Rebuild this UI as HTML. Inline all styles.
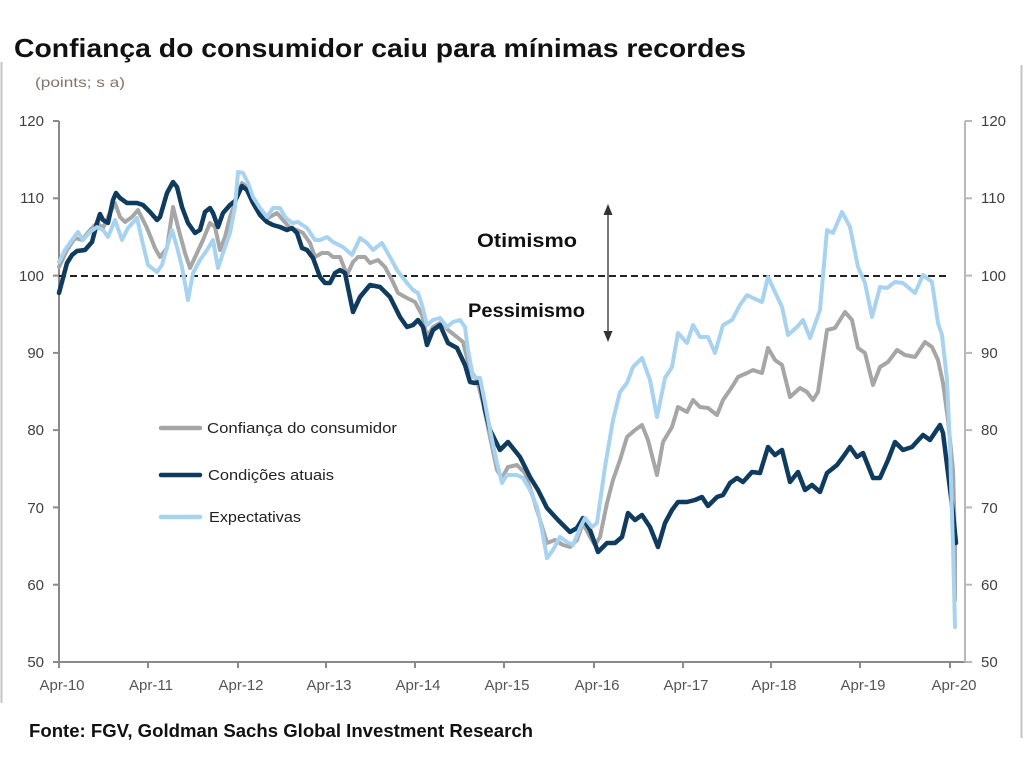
<!DOCTYPE html>
<html><head><meta charset="utf-8"><style>
html,body{margin:0;padding:0;background:#fff;}
svg{display:block;}
text{font-family:"Liberation Sans",Arial,sans-serif;}
</style></head><body>
<svg width="1024" height="768" viewBox="0 0 1024 768" xmlns="http://www.w3.org/2000/svg">
<rect width="1024" height="768" fill="#fff"/>
<!-- frame lines -->
<line x1="1.5" y1="62" x2="1.5" y2="703" stroke="#c4c4c4" stroke-width="2"/>
<line x1="1021.5" y1="65" x2="1021.5" y2="738" stroke="#c4c4c4" stroke-width="2"/>

<!-- title -->
<text x="14" y="57" font-size="26" font-weight="bold" fill="#111" textLength="732" lengthAdjust="spacingAndGlyphs">Confiança do consumidor caiu para mínimas recordes</text>
<text x="35" y="87" font-size="14" fill="#85746a" textLength="90" lengthAdjust="spacingAndGlyphs">(points; s a)</text>

<!-- axes -->
<g stroke="#8a8a8a" stroke-width="2" fill="none">
<line x1="59" y1="121" x2="59" y2="663"/>
<line x1="58" y1="662" x2="966" y2="662"/>
<line x1="53" y1="121" x2="59" y2="121"/>
<line x1="53" y1="198.3" x2="59" y2="198.3"/>
<line x1="53" y1="275.6" x2="59" y2="275.6"/>
<line x1="53" y1="352.9" x2="59" y2="352.9"/>
<line x1="53" y1="430.1" x2="59" y2="430.1"/>
<line x1="53" y1="507.4" x2="59" y2="507.4"/>
<line x1="53" y1="584.7" x2="59" y2="584.7"/>
<line x1="53" y1="662" x2="59" y2="662"/>
<line x1="59" y1="662" x2="59" y2="668"/>
<line x1="148" y1="662" x2="148" y2="668"/>
<line x1="238" y1="662" x2="238" y2="668"/>
<line x1="326" y1="662" x2="326" y2="668"/>
<line x1="415" y1="662" x2="415" y2="668"/>
<line x1="504" y1="662" x2="504" y2="668"/>
<line x1="594" y1="662" x2="594" y2="668"/>
<line x1="683" y1="662" x2="683" y2="668"/>
<line x1="771" y1="662" x2="771" y2="668"/>
<line x1="860" y1="662" x2="860" y2="668"/>
<line x1="950" y1="662" x2="950" y2="668"/>
</g>
<g stroke="#b8b8b8" stroke-width="2" fill="none">
<line x1="965" y1="121" x2="965" y2="662"/>
<line x1="965" y1="121" x2="972" y2="121"/>
<line x1="965" y1="198.3" x2="972" y2="198.3"/>
<line x1="965" y1="275.6" x2="972" y2="275.6"/>
<line x1="965" y1="352.9" x2="972" y2="352.9"/>
<line x1="965" y1="430.1" x2="972" y2="430.1"/>
<line x1="965" y1="507.4" x2="972" y2="507.4"/>
<line x1="965" y1="584.7" x2="972" y2="584.7"/>
<line x1="965" y1="662" x2="972" y2="662"/>
</g>

<!-- y labels left -->
<g font-size="15" fill="#404040" text-anchor="end">
<text x="44" y="126">120</text>
<text x="44" y="203">110</text>
<text x="44" y="281">100</text>
<text x="44" y="358">90</text>
<text x="44" y="435">80</text>
<text x="44" y="513">70</text>
<text x="44" y="590">60</text>
<text x="44" y="667">50</text>
</g>
<!-- y labels right -->
<g font-size="15" fill="#404040">
<text x="981" y="126">120</text>
<text x="981" y="203">110</text>
<text x="981" y="281">100</text>
<text x="981" y="358">90</text>
<text x="981" y="435">80</text>
<text x="981" y="513">70</text>
<text x="981" y="590">60</text>
<text x="981" y="667">50</text>
</g>
<!-- x labels -->
<g font-size="15" fill="#555" text-anchor="middle">
<text x="62" y="690">Apr-10</text>
<text x="151" y="690">Apr-11</text>
<text x="241" y="690">Apr-12</text>
<text x="329" y="690">Apr-13</text>
<text x="418" y="690">Apr-14</text>
<text x="507" y="690">Apr-15</text>
<text x="597" y="690">Apr-16</text>
<text x="686" y="690">Apr-17</text>
<text x="774" y="690">Apr-18</text>
<text x="863" y="690">Apr-19</text>
<text x="954" y="690">Apr-20</text>
</g>

<!-- dashed 100 line -->
<line x1="59" y1="276" x2="950" y2="276" stroke="#222" stroke-width="2" stroke-dasharray="7,4"/>

<!-- series -->
<g fill="none" stroke-width="4" stroke-linejoin="round" stroke-linecap="round">
<polyline stroke="#a6a6a6" points="59,267 67,250 75,238 82,240 90,230 97,223 103,228 110,213 115,203 120,217 125,222 132,217 138,210 147,228 155,248 160,257 167,248 173,207 178,227 185,253 190,268 197,253 203,240 210,223 215,227 220,250 225,237 230,217 237,197 242,183 248,188 255,203 262,213 268,218 277,213 283,220 290,228 297,230 303,233 310,243 315,257 322,253 328,253 333,257 340,257 347,275 353,262 358,257 365,257 370,263 378,260 385,267 392,280 398,293 407,298 415,302 422,315 427,337 433,327 442,322 448,330 457,337 463,342 470,370 477,380 483,403 490,437 497,470 502,478 508,467 517,465 525,473 533,497 540,520 547,543 555,540 563,545 570,547 577,540 583,523 590,537 595,545 600,537 607,503 613,480 620,460 627,437 635,430 642,425 648,440 657,475 663,442 672,427 678,407 687,412 693,400 700,407 708,408 717,415 723,400 732,387 738,377 747,373 753,370 762,373 768,348 775,360 782,365 790,397 800,388 807,392 813,400 818,392 827,330 835,328 845,312 852,320 858,348 865,353 873,385 880,367 888,362 897,350 905,355 915,357 925,342 932,347 938,360 943,383 948,420 953,470 955,540 955,600"/>
<polyline stroke="#0f3b5f" stroke-width="4.5" points="59,293 63,278 67,263 72,255 77,251 85,250 92,242 97,223 100,214 103,220 108,223 113,200 116,193 120,198 127,203 137,203 143,205 150,212 157,220 160,217 167,193 173,182 177,187 182,207 188,223 195,233 200,230 205,212 210,208 213,213 218,227 223,213 230,205 235,201 242,186 247,190 253,203 260,215 267,222 273,225 280,227 287,230 292,228 297,233 302,248 307,250 313,258 320,277 325,283 330,283 335,273 340,270 345,273 353,312 360,297 370,285 380,287 390,297 400,317 407,327 413,325 418,320 423,327 427,345 433,330 440,325 448,343 457,348 465,365 470,382 475,383 480,382 485,410 490,430 500,450 508,442 520,457 530,477 538,490 547,508 558,520 570,532 577,528 583,518 590,530 598,552 607,543 615,543 622,537 628,513 635,520 642,515 650,527 658,547 665,523 672,510 678,502 687,502 695,500 702,497 708,506 717,497 723,495 730,483 737,478 743,482 752,472 760,473 768,447 775,455 782,450 790,482 798,472 805,490 812,485 820,492 827,473 837,465 843,457 850,447 857,457 863,453 873,478 880,478 888,460 895,442 903,450 912,447 923,435 930,440 940,425 943,433 948,473 953,513 956,543"/>
<polyline stroke="#a8d3f0" points="59,262 65,250 72,240 78,232 83,240 90,232 97,227 103,230 108,237 115,220 122,240 128,228 137,218 142,240 148,265 157,272 162,265 167,247 172,230 177,247 182,267 188,300 193,273 200,260 207,250 213,240 218,268 223,253 230,233 235,207 238,172 243,173 248,183 253,197 260,208 267,217 273,208 280,208 285,217 292,223 298,222 307,228 315,240 320,240 327,237 333,242 343,247 352,255 360,238 367,243 373,250 382,243 390,257 397,270 407,283 413,290 418,293 422,305 427,325 433,320 440,318 447,327 453,322 460,320 465,327 468,350 473,377 480,378 485,403 490,430 497,463 502,483 507,475 517,475 523,478 530,490 537,507 542,530 547,558 553,550 560,537 567,542 573,545 580,528 585,518 592,527 597,523 605,467 613,420 620,392 627,383 633,367 642,358 650,380 657,417 665,378 672,367 678,333 687,343 693,325 700,337 708,337 715,353 723,325 732,320 740,305 747,295 753,298 762,302 768,277 775,292 782,307 788,335 797,327 803,320 810,338 820,310 827,230 833,233 842,212 850,227 858,267 865,283 872,317 880,287 887,288 895,282 903,283 915,293 923,275 932,282 938,323 942,335 947,380 950,447 953,547 955,627"/>
</g>

<!-- arrow -->
<line x1="608" y1="210" x2="608" y2="337" stroke="#555" stroke-width="1.6"/>
<polygon points="608,204 603.5,215 612.5,215" fill="#333"/>
<polygon points="608,342 603.5,331 612.5,331" fill="#333"/>
<text x="477" y="247" font-size="19" font-weight="bold" fill="#111" textLength="100" lengthAdjust="spacingAndGlyphs">Otimismo</text>
<text x="468" y="317" font-size="19" font-weight="bold" fill="#111" textLength="117" lengthAdjust="spacingAndGlyphs">Pessimismo</text>

<!-- legend -->
<g stroke-width="4.5" stroke-linecap="round">
<line x1="161" y1="428" x2="200" y2="428" stroke="#a6a6a6"/>
<line x1="161" y1="475" x2="200" y2="475" stroke="#0f3b5f"/>
<line x1="161" y1="517" x2="200" y2="517" stroke="#a8d3f0"/>
</g>
<g font-size="15" fill="#222">
<text x="207" y="433" textLength="190" lengthAdjust="spacingAndGlyphs">Confiança do consumidor</text>
<text x="208" y="480" textLength="126" lengthAdjust="spacingAndGlyphs">Condições atuais</text>
<text x="209" y="522" textLength="92" lengthAdjust="spacingAndGlyphs">Expectativas</text>
</g>

<!-- source -->
<text x="29" y="737" font-size="18" font-weight="bold" fill="#111" textLength="504" lengthAdjust="spacingAndGlyphs">Fonte: FGV, Goldman Sachs Global Investment Research</text>
</svg>
</body></html>
